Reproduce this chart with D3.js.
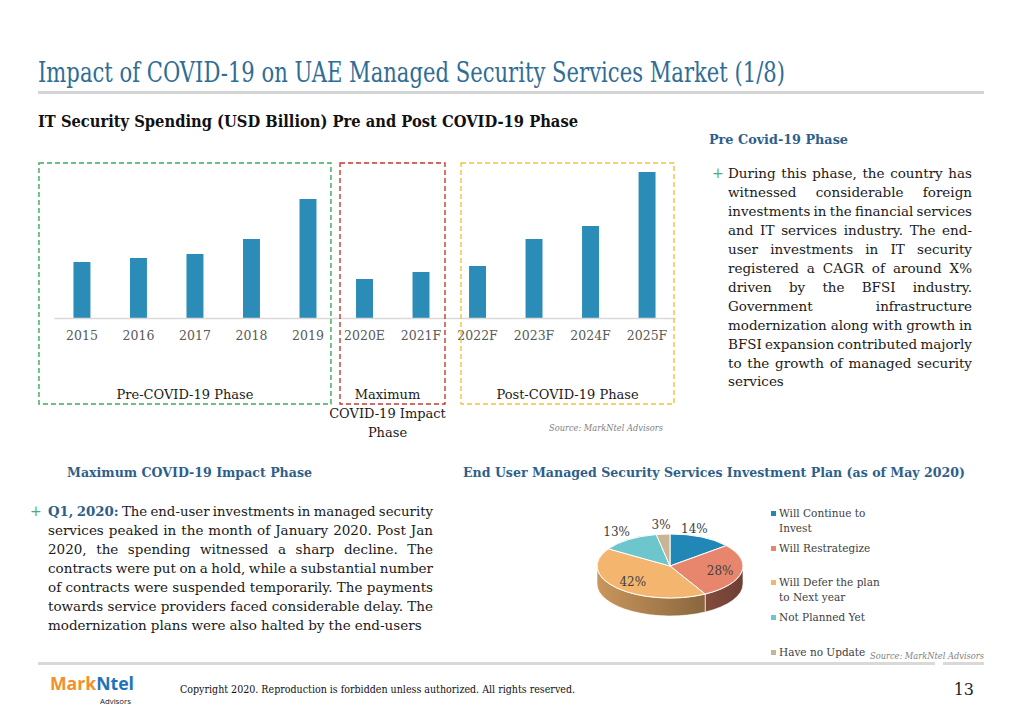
<!DOCTYPE html>
<html><head><meta charset="utf-8">
<script src="https://cdn.jsdelivr.net/npm/d3@7"></script>
<style>body{margin:0;background:#fff;} svg{display:block;}</style>
</head><body>
<svg id="c" width="1023" height="708"></svg>
<script>
// ---------------- DATA ----------------
const years = ["2015","2016","2017","2018","2019","2020E","2021F","2022F","2023F","2024F","2025F"];
const spending = [0.56, 0.60, 0.64, 0.79, 1.19, 0.39, 0.46, 0.52, 0.79, 0.92, 1.46];
const phaseNames = [["Pre-COVID-19 Phase"], ["Maximum","COVID-19 Impact","Phase"], ["Post-COVID-19 Phase"]];
const phaseFirst = ["2015","2020E","2022F"];
const phaseLast = ["2019","2021F","2025F"];

const planLabels = [["Will Continue to","Invest"],["Will Restrategize"],["Will Defer the plan","to Next year"],["Not Planned Yet"],["Have no Update"]];
const planShares = [14, 28, 42, 13, 3];

const preCovidText = [
 "During this phase, the country has",
 "witnessed considerable foreign",
 "investments in the financial services",
 "and IT services industry. The end-",
 "user investments in IT security",
 "registered a CAGR of around X%",
 "driven by the BFSI industry.",
 "Government infrastructure",
 "modernization along with growth in",
 "BFSI expansion contributed majorly",
 "to the growth of managed security",
 "services"];
const impactLead = "Q1, 2020:";
const impactText = [
 "The end-user investments in managed security",
 "services peaked in the month of January 2020. Post Jan",
 "2020, the spending witnessed a sharp decline. The",
 "contracts were put on a hold, while a substantial number",
 "of contracts were suspended temporarily. The payments",
 "towards service providers faced considerable delay. The",
 "modernization plans were also halted by the end-users"];

// ---------------- STYLE ----------------
const SERIF = "'DejaVu Serif', 'Liberation Serif', serif";
const BLUE_T = "#2f6d95";
const BLUE_H = "#2e5f8b";
const BAR = "#2a8cb7";
const planColors = ["#2187b6","#e8866d","#f4b66f","#6cc6cb","#c8b594"];
const phaseColors = ["#3aaa5e","#c23a2f","#f2c434"];

const svg = d3.select("#c");

function label(x, y, s, o = {}) {
  const t = svg.append("text").attr("x", x).attr("y", y).text(s)
    .attr("font-family", o.family || SERIF)
    .attr("font-size", o.size || 13)
    .attr("font-weight", o.bold ? "bold" : "normal")
    .attr("font-style", o.italic ? "italic" : "normal")
    .attr("fill", o.color || "#1a1a1a")
    .attr("text-anchor", o.anchor || "start");
  if (o.width) {
    const w = t.node().getComputedTextLength();
    if (Math.abs(w - o.width) > 1) t.attr("textLength", o.width).attr("lengthAdjust", "spacingAndGlyphs");
  }
  return t;
}

function paraLine(words, x, y, width, size, justify) {
  const els = words.map(w => svg.append("text").attr("y", y)
    .attr("font-family", SERIF).attr("font-size", size)
    .attr("font-weight", w.bold ? "bold" : "normal")
    .attr("fill", w.color || "#1a1a1a").text(w.t));
  const ws = els.map(e => e.node().getComputedTextLength());
  const sp = size * 0.3;
  const n = words.length;
  const sum = d3.sum(ws);
  let gap = sp, sc = 1;
  if (justify && n > 1) {
    gap = (width - sum) / (n - 1);
    if (gap < sp * 0.8) { gap = sp * 0.8; sc = (width - gap * (n - 1)) / sum; }
  } else if (sum + sp * (n - 1) > width) {
    sc = (width - sp * (n - 1)) / sum;
  }
  let cx = x;
  els.forEach((e, i) => {
    e.attr("x", cx);
    if (sc < 1) e.attr("textLength", ws[i] * sc).attr("lengthAdjust", "spacingAndGlyphs");
    cx += ws[i] * sc + gap;
  });
}

// ---------------- HEADER ----------------
label(38, 82, "Impact of COVID-19 on UAE Managed Security Services Market (1/8)", {size: 27, color: BLUE_T, width: 747});
svg.append("rect").attr("x", 38).attr("y", 91).attr("width", 946).attr("height", 3).attr("fill", "#d4d4d4");
label(38, 127, "IT Security Spending (USD Billion) Pre and Post COVID-19 Phase", {size: 16.5, bold: true, color: "#111", width: 540});

// ---------------- BAR CHART ----------------
const x = d3.scaleBand().domain(years).range([53.7, 675.3]).paddingInner(0.7).paddingOuter(0.35);
const y = d3.scaleLinear().domain([0, 1.6]).range([318, 158]);

svg.append("g").selectAll("rect").data(years).join("rect")
  .attr("x", d => x(d)).attr("width", x.bandwidth())
  .attr("y", (d, i) => y(spending[i])).attr("height", (d, i) => y(0) - y(spending[i]))
  .attr("fill", BAR);

const xAxis = svg.append("g").attr("transform", `translate(0,${y(0)})`)
  .call(d3.axisBottom(x).tickSize(0).tickPadding(13));
xAxis.select(".domain").attr("stroke", "#d9d9d9").attr("stroke-width", 1.5);
xAxis.selectAll("text").attr("font-family", SERIF).attr("font-size", 12.5).attr("fill", "#595959");

// phase boxes
const boxPad = [[34.5, 14.5], [16, 15.5], [8, 18.5]];
const labelShift = [0, -5, 0];
phaseFirst.forEach((f, i) => {
  const x0 = x(f) - boxPad[i][0];
  const x1 = x(phaseLast[i]) + x.bandwidth() + boxPad[i][1];
  svg.append("rect").attr("x", x0).attr("y", 163).attr("width", x1 - x0).attr("height", 241)
    .attr("fill", "none").attr("stroke", phaseColors[i]).attr("stroke-width", 1.4)
    .attr("stroke-dasharray", "5,3");
  phaseNames[i].forEach((ln, j) => {
    label((x0 + x1) / 2 + labelShift[i], 399 + j * 19, ln, {size: 13, anchor: "middle", color: "#1a1a1a"});
  });
});
label(663, 431, "Source: MarkNtel Advisors", {size: 9, italic: true, color: "#7f7f7f", anchor: "end", width: 114});

// ---------------- PRE COVID TEXT ----------------
label(709, 144, "Pre Covid-19 Phase", {size: 13, bold: true, color: BLUE_H, width: 139});
label(712, 178, "+", {size: 14, color: "#4fa77c"});
preCovidText.forEach((ln, i) => {
  paraLine(ln.split(" ").map(t => ({t})), 728, 178 + i * 18.95, 244, 13.5, i < preCovidText.length - 1);
});

// ---------------- IMPACT TEXT ----------------
label(67, 477, "Maximum COVID-19 Impact Phase", {size: 13, bold: true, color: BLUE_H, width: 245});
label(30, 516, "+", {size: 14, color: "#4fa77c"});
impactText.forEach((ln, i) => {
  let words = ln.split(" ").map(t => ({t}));
  if (i === 0) words = impactLead.split(" ").map(t => ({t, bold: true, color: BLUE_H})).concat(words);
  paraLine(words, 48, 516 + i * 19, 385, 13.5, i < impactText.length - 1);
});

// ---------------- PIE ----------------
label(463, 477, "End User Managed Security Services Investment Plan (as of May 2020)", {size: 13, bold: true, color: BLUE_H, width: 502});

const cx = 670, cy = 566, rx = 73, ry = 32, depth = 18;
const P = (a, dy = 0) => [cx + rx * Math.sin(a), cy - ry * Math.cos(a) + dy];
const arcs = d3.pie().sort(null).value(d => d)(planShares);

const defs = svg.append("defs");
arcs.forEach((a, i) => {
  const g = defs.append("linearGradient").attr("id", "side" + i)
    .attr("gradientUnits", "userSpaceOnUse").attr("x1", cx - rx).attr("x2", cx + rx).attr("y1", 0).attr("y2", 0);
  g.append("stop").attr("offset", "0%").attr("stop-color", d3.color(planColors[i]).darker(0.55));
  g.append("stop").attr("offset", "100%").attr("stop-color", d3.color(planColors[i]).darker(2.1));
});

const pieG = svg.append("g");
// sides (front half only)
arcs.forEach((a, i) => {
  const s = Math.max(a.startAngle, Math.PI / 2), e = Math.min(a.endAngle, 3 * Math.PI / 2);
  if (s >= e) return;
  const p0 = P(s), p1 = P(e), p2 = P(e, depth), p3 = P(s, depth);
  const lg = (e - s) > Math.PI ? 1 : 0;
  const path = `M${p0}A${rx},${ry} 0 ${lg} 1 ${p1}L${p2}A${rx},${ry} 0 ${lg} 0 ${p3}Z`;
  pieG.append("path").attr("d", path).attr("fill", `url(#side${i})`)
    .attr("stroke", "#fff").attr("stroke-width", 0.8).attr("stroke-opacity", 0.8);
});
// tops
arcs.forEach((a, i) => {
  const p0 = P(a.startAngle), p1 = P(a.endAngle);
  const lg = (a.endAngle - a.startAngle) > Math.PI ? 1 : 0;
  pieG.append("path").attr("d", `M${cx},${cy}L${p0}A${rx},${ry} 0 ${lg} 1 ${p1}Z`)
    .attr("fill", planColors[i]).attr("stroke", "#fff").attr("stroke-width", 1);
});
// labels
const labelNudge = [-16, 0, 0, 0, 0];
arcs.forEach((a, i) => {
  const m = (a.startAngle + a.endAngle) / 2;
  const k = planShares[i] >= 20 ? 0.7 : 1.3;
  const [lx, ly] = [cx + rx * k * Math.sin(m) + labelNudge[i], cy - ry * k * Math.cos(m)];
  label(lx, ly + 4.5, planShares[i] + "%", {size: 12, anchor: "middle", color: "#404040"});
});

// legend
const legendY = [513, 548, 582, 617, 652];
planLabels.forEach((lines, i) => {
  svg.append("rect").attr("x", 771).attr("y", legendY[i] - 2).attr("width", 5).attr("height", 5).attr("fill", planColors[i]);
  lines.forEach((ln, j) => label(779, legendY[i] + 4 + j * 14.5, ln, {size: 10.5, color: "#404040"}));
});
label(984, 659, "Source: MarkNtel Advisors", {size: 9, italic: true, color: "#7f7f7f", anchor: "end", width: 114});

// ---------------- FOOTER ----------------
svg.append("rect").attr("x", 38).attr("y", 662).attr("width", 897).attr("height", 3).attr("fill", "#d9d9d9");
svg.append("rect").attr("x", 943).attr("y", 662).attr("width", 41).attr("height", 3).attr("fill", "#d9d9d9");
const logo = svg.append("text").attr("x", 50).attr("y", 690).attr("font-family", "'Open Sans', 'DejaVu Sans', sans-serif")
  .attr("font-size", 18).attr("font-weight", "bold").attr("textLength", 84).attr("lengthAdjust", "spacingAndGlyphs");
logo.append("tspan").attr("fill", "#f2902a").text("Mark");
logo.append("tspan").attr("fill", "#1f74b9").text("Ntel");
label(131, 704, "Advisors", {size: 7.5, family: "'Open Sans', sans-serif", anchor: "end", color: "#222", width: 31});
label(180, 693, "Copyright 2020. Reproduction is forbidden unless authorized. All rights reserved.", {size: 10.5, color: "#111", width: 395});
label(974, 695, "13", {size: 16, anchor: "end", color: "#222"});
</script>
</body></html>
